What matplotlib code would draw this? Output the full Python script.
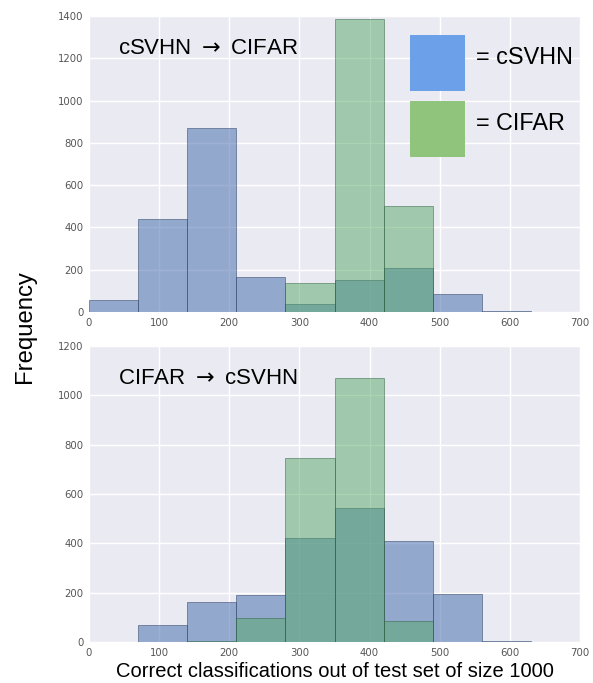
import numpy as np
import matplotlib
matplotlib.use("Agg")
import matplotlib.pyplot as plt
from matplotlib.patches import Rectangle

bin_edges = [0, 70, 140, 210, 280, 350, 420, 490, 560, 630, 700]

top_csvhn = [57, 440, 870, 165, 38, 151, 208, 85, 3, 0]
top_cifar = [0, 0, 0, 2, 137, 1386, 501, 0, 0, 0]

bot_csvhn = [2, 70, 161, 190, 421, 543, 411, 196, 3, 0]
bot_cifar = [0, 0, 5, 99, 746, 1072, 87, 0, 0, 0]

top_title = r"cSVHN $\rightarrow$ CIFAR"
bot_title = r"CIFAR $\rightarrow$ cSVHN"
xlabel = "Correct classifications out of test set of size 1000"
ylabel = "Frequency"

blue = "#4C72B0"
green = "#55A868"
bg = "#EAEAF2"

plt.rcParams["mathtext.fontset"] = "dejavusans"

fig = plt.figure(figsize=(5.93, 6.83), dpi=100)
W, H = 593, 683

def add_ax(l, t, r, b):
    return fig.add_axes([l / W, 1 - b / H, (r - l) / W, (b - t) / H])

ax1 = add_ax(89, 16, 580, 312)
ax2 = add_ax(89, 346, 580, 642)

def draw(ax, blue_vals, green_vals, ymax, yticks):
    ax.set_facecolor(bg)
    edges = np.array(bin_edges)
    widths = np.diff(edges)
    ax.bar(edges[:-1], blue_vals, width=widths, align="edge", color=blue,
           alpha=0.55, edgecolor="#34466a", linewidth=0.7, zorder=2)
    ax.bar(edges[:-1], green_vals, width=widths, align="edge", color=green,
           alpha=0.5, edgecolor="#2f6040", linewidth=0.7, zorder=3)
    ax.set_xlim(0, 700)
    ax.set_ylim(0, ymax)
    ax.set_xticks(range(0, 701, 100))
    ax.set_yticks(yticks)
    ax.grid(True, color="white", linewidth=1.0, zorder=0)
    ax.set_axisbelow(True)
    for s in ax.spines.values():
        s.set_visible(False)
    ax.tick_params(length=0, labelsize=7.3, labelcolor="#555555", pad=4)

draw(ax1, top_csvhn, top_cifar, 1400, range(0, 1401, 200))
draw(ax2, bot_csvhn, bot_cifar, 1200, range(0, 1201, 200))

font = "Liberation Sans"
fig.text(118 / W, 1 - 49 / H, top_title, fontsize=16, family=font,
         va="center", ha="left")
fig.text(118 / W, 1 - 378 / H, bot_title, fontsize=16, family=font,
         va="center", ha="left")

# legend boxes
fig.patches.append(Rectangle((410 / W, 1 - 91 / H), 55 / W, 56 / H,
                             transform=fig.transFigure, facecolor="#6CA0E8",
                             edgecolor="none", zorder=5))
fig.patches.append(Rectangle((410 / W, 1 - 157 / H), 55 / W, 56 / H,
                             transform=fig.transFigure, facecolor="#90C47C",
                             edgecolor="none", zorder=5))
fig.text(476 / W, 1 - 58 / H, "= cSVHN", fontsize=16.8, family=font, va="center", ha="left")
fig.text(476 / W, 1 - 124 / H, "= CIFAR", fontsize=16.8, family=font, va="center", ha="left")

fig.text(25 / W, 1 - 327 / H, ylabel, rotation=90, fontsize=17.2, family=font,
         va="center", ha="center")
fig.text(335 / W, 2 / H, xlabel, fontsize=14.5, family=font,
         va="bottom", ha="center")

fig.savefig("out.png", dpi=100)
